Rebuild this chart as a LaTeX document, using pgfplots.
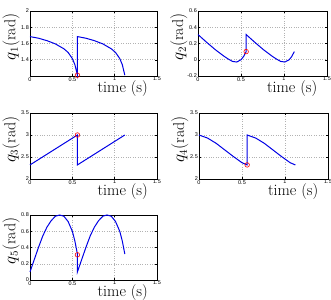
\documentclass[border=0pt]{standalone}
\usepackage{fontspec}
\usepackage{pgfplots}
\pgfplotsset{compat=1.18}
\newfontfamily\tickfont{Liberation Sans}
\pgfplotsset{
  qstyle/.style={
    scale only axis, anchor=south west,
    xmin=0, xmax=1.5, xtick={0,0.5,1,1.5},
    grid=major, grid style={gray!60, dotted, line width=0.5pt},
    axis line style={line width=0.8pt},
    tick align=inside, major tick length=2bp,
    tick style={black, line width=0.4pt},
    every tick label/.append style={font=\tickfont\fontsize{5.5}{6}\selectfont, inner sep=1pt},
    /pgf/number format/assume math mode=true,
    xlabel={time (s)},
    xlabel style={font=\fontsize{16}{16}\selectfont, at={(axis description cs:0.73,0)}, anchor=north, inner sep=0pt, yshift=-4bp},
    ylabel style={font=\fontsize{16}{16}\selectfont, at={(axis description cs:-0.08,0.6)}, anchor=south, inner sep=0pt},
    clip=false,
  },
  curve/.style={blue!90!black, line width=1pt, no marks},
  pt/.style={only marks, mark=o, mark size=2.3pt, red, line width=0.6pt, mark options={fill=red!35}},
}
\begin{document}
\begin{tikzpicture}
\useasboundingbox (0,0) rectangle (331bp,300bp);
% q1
\begin{axis}[qstyle, at={(30bp,224bp)}, width=127bp, height=65bp,
  ymin=1.2, ymax=2, ytick={1.4,1.6,1.8,2}, ylabel={$q_1(\mathrm{rad})$}]
\addplot[curve] coordinates {(0,1.685)(0.1,1.665)(0.2,1.635)(0.3,1.595)(0.4,1.535)(0.45,1.49)(0.5,1.415)(0.53,1.34)(0.56,1.21)
(0.56,1.685)(0.66,1.665)(0.76,1.635)(0.86,1.595)(0.96,1.535)(1.01,1.49)(1.06,1.415)(1.09,1.34)(1.12,1.21)};
\addplot[pt] coordinates {(0.56,1.21)};
\end{axis}
% q2
\begin{axis}[qstyle, at={(198bp,224bp)}, width=129bp, height=65bp,
  ymin=-0.2, ymax=0.6, ytick={-0.2,0,0.2,0.4,0.6}, ylabel={$q_2(\mathrm{rad})$}]
\addplot[curve] coordinates {(0,0.31)(0.1,0.215)(0.2,0.125)(0.3,0.045)(0.35,0.01)(0.4,-0.02)(0.45,-0.028)(0.5,0.0)(0.53,0.04)(0.56,0.10)
(0.56,0.31)(0.66,0.215)(0.76,0.125)(0.86,0.045)(0.91,0.01)(0.96,-0.02)(1.01,-0.028)(1.06,0.0)(1.09,0.04)(1.12,0.10)};
\addplot[pt] coordinates {(0.56,0.10)};
\end{axis}
% q3
\begin{axis}[qstyle, at={(30bp,121bp)}, width=127bp, height=66bp,
  ymin=2, ymax=3.5, ytick={2,2.5,3,3.5}, ylabel={$q_3(\mathrm{rad})$}]
\addplot[curve] coordinates {(0,2.32)(0.28,2.66)(0.56,3.0)(0.56,2.32)(0.84,2.66)(1.12,3.0)};
\addplot[pt] coordinates {(0.56,3.0)};
\end{axis}
% q4
\begin{axis}[qstyle, at={(199bp,121bp)}, width=129bp, height=66bp,
  ymin=2, ymax=3.5, ytick={2,2.5,3,3.5}, ylabel={$q_4(\mathrm{rad})$}]
\addplot[curve] coordinates {(0,3.0)(0.1,2.93)(0.2,2.81)(0.3,2.66)(0.4,2.51)(0.5,2.37)(0.56,2.32)
(0.56,3.0)(0.66,2.93)(0.76,2.81)(0.86,2.66)(0.96,2.51)(1.06,2.37)(1.12,2.32)};
\addplot[pt] coordinates {(0.56,2.32)};
\end{axis}
% q5
\begin{axis}[qstyle, at={(30bp,20bp)}, width=127bp, height=65bp,
  ymin=0, ymax=0.8, ytick={0,0.2,0.4,0.6,0.8}, ylabel={$q_5(\mathrm{rad})$}]
\addplot[curve] coordinates {(0,0.1)(0.05,0.25)(0.1,0.4)(0.15,0.54)(0.2,0.65)(0.25,0.73)(0.3,0.785)(0.35,0.8)(0.4,0.785)(0.45,0.72)(0.5,0.6)(0.53,0.48)(0.56,0.32)
(0.56,0.1)(0.61,0.25)(0.66,0.4)(0.71,0.54)(0.76,0.65)(0.81,0.73)(0.86,0.785)(0.91,0.8)(0.96,0.785)(1.01,0.72)(1.06,0.6)(1.09,0.48)(1.12,0.32)};
\addplot[pt] coordinates {(0.56,0.31)};
\end{axis}
\end{tikzpicture}
\end{document}
